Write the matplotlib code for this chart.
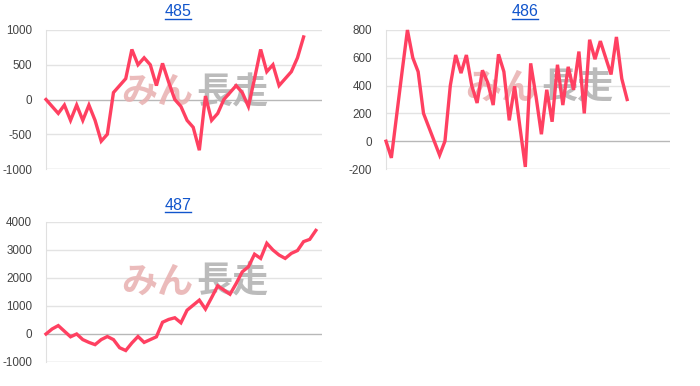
import matplotlib
matplotlib.use('Agg')
import matplotlib.pyplot as plt
from matplotlib.lines import Line2D

plt.rcParams['font.family'] = ['Liberation Sans', 'DejaVu Sans']

titles = ['485', '486', '487']

v485 = [0, -100, -200, -80, -300, -80, -300, -80, -300, -600, -500, 100, 200, 300, 720,
        500, 600, 500, 200, 520, 250, 0, -100, -300, -400, -730, 50, -300, -200, 0,
        100, 200, 100, -100, 300, 720, 400, 500, 200, 300, 400, 600, 900]

v486 = [0, -120, 190, 500, 800, 600, 500, 200, 100, 0, -100, 0, 400, 620, 490, 620,
        400, 275, 510, 420, 260, 625, 500, 150, 395, 100, -185, 560, 320, 50, 370,
        140, 550, 260, 535, 370, 645, 200, 730, 590, 720, 600, 480, 750, 450, 300]

v487 = [0, 180, 300, 100, -100, 0, -200, -300, -380, -200, -90, -200, -490, -590, -320,
        -90, -300, -200, -100, 420, 520, 580, 400, 850, 1030, 1210, 890, 1300, 1720, 1570,
        1420, 1800, 2220, 2400, 2850, 2700, 3240, 3000, 2820, 2700, 2880, 2980, 3300, 3380, 3700]

yt485 = [-1000, -500, 0, 500, 1000]
yt486 = [-200, 0, 200, 400, 600, 800]
yt487 = [-1000, 0, 1000, 2000, 3000, 4000]

linecol = '#ff4061'
W, H = 700, 386

fig = plt.figure(figsize=(7, 3.86), dpi=100)

def chart(rect, vals, ticks, xmax, title, tx, ty, wy):
    ax = fig.add_axes(rect)
    ax.set_xlim(0, xmax)
    ax.set_ylim(ticks[0], ticks[-1])
    ax.set_yticks(ticks)
    ax.set_yticklabels([str(t) for t in ticks])
    ax.set_xticks([])
    ax.tick_params(axis='y', length=0, pad=10, labelsize=8.4, labelcolor='#444444')
    for s in ['top', 'right', 'bottom']:
        ax.spines[s].set_visible(False)
    ax.spines['left'].set_color('#e0e0e0')
    ax.spines['left'].set_linewidth(0.8)
    for t in ticks:
        if t == 0:
            c = '#b8b8b8'
        elif t == ticks[0]:
            c = '#c8c8c8'
        else:
            c = '#e3e3e3'
        ax.axhline(t, color=c, lw=1, zorder=0)
    # watermark
    ax.text(0.535, wy, 'みん', transform=ax.transAxes, ha='right', va='center',
            fontsize=26, fontweight='bold', color='#e8b0b0', alpha=0.85,
            family=['Noto Sans CJK JP'], zorder=1)
    ax.text(0.545, wy, '長走', transform=ax.transAxes, ha='left', va='center',
            fontsize=26, fontweight='bold', color='#b4b4b4', alpha=0.9,
            family=['Noto Sans CJK JP'], zorder=1)
    ax.plot(range(len(vals)), vals, color=linecol, lw=2.4, zorder=3, clip_on=False,
            solid_joinstyle='miter')
    t = fig.text(tx / W, 1 - ty / H, title, ha='center', va='center',
                 fontsize=11.5, color='#1155cc')
    return t

labels = []
labels.append(chart([46 / W, 1 - 169 / H, 276 / W, 139 / H], v485, yt485, 45, titles[0], 178, 12, 0.55))
labels.append(chart([386 / W, 1 - 169 / H, 284 / W, 139 / H], v486, yt486, 53, titles[1], 525, 12, 0.58))
labels.append(chart([46 / W, 1 - 362 / H, 276 / W, 140 / H], v487, yt487, 45, titles[2], 178, 205, 0.57))

# underline the titles like links
fig.canvas.draw()
r = fig.canvas.get_renderer()
for t in labels:
    bb = t.get_window_extent(r)
    y = bb.y0 + 1
    fig.add_artist(Line2D([bb.x0 / W, bb.x1 / W], [y / H, y / H], color='#1155cc', lw=1))

fig.savefig('out.png', dpi=100)
